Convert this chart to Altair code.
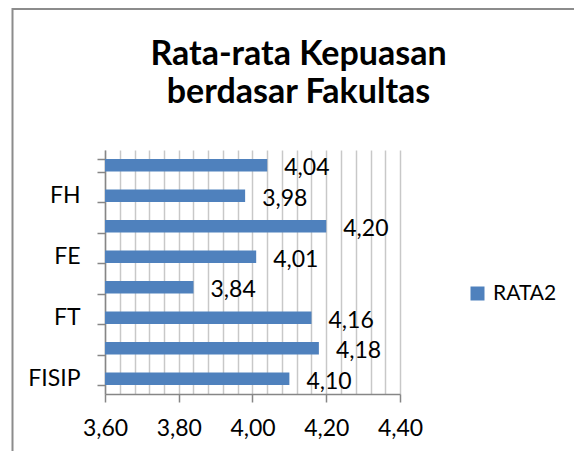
import altair as alt
import pandas as pd

# ---- data (bottom to top, as drawn) ----
categories = ["FISIP", "FKIP", "FT", "FP", "FE", "FK", "FH", "FTI"]
values = [4.10, 4.18, 4.16, 3.84, 4.01, 4.20, 3.98, 4.04]
shown_labels = ["FISIP", "FT", "FE", "FH"]
series_name = "RATA2"
x_domain = [3.60, 4.40]
x_grid_values = [3.60, 3.64, 3.68, 3.72, 3.76, 3.80, 3.84, 3.88, 3.92, 3.96,
                 4.00, 4.04, 4.08, 4.12, 4.16, 4.20, 4.24, 4.28, 4.32, 4.36, 4.40]
title_lines = ["Rata-rata Kepuasan", "berdasar Fakultas"]

FONT = "Lato"
BAR_COLOR = "#4F81BD"
AXIS_COLOR = "#868686"
GRID_COLOR = "#C8C8C8"

df = pd.DataFrame({"Fakultas": categories, "Nilai": values, "Seri": series_name})
order_top_first = categories[::-1]

shown_js = "[" + ",".join("'" + s + "'" for s in shown_labels) + "]"
major_test = "abs(datum.value*5 - round(datum.value*5)) < 0.001"

x_axis = alt.Axis(
    values=x_grid_values,
    labelExpr=f"{major_test} ? replace(format(datum.value, '.2f'), '.', ',') : ''",
    labelOverlap=False,
    labelFlush=False,
    labelBound=False,
    labelFont=FONT,
    labelFontSize=23,
    labelColor="black",
    labelPadding=15,
    tickSize=8,
    tickColor=AXIS_COLOR,
    tickWidth=1.5,
    tickOpacity={"condition": {"test": major_test, "value": 1}, "value": 0},
    domainColor=AXIS_COLOR,
    domainWidth=1.5,
    grid=True,
    gridColor=GRID_COLOR,
    gridWidth=1.5,
)

y_axis = alt.Axis(
    labelExpr=f"indexof({shown_js}, datum.value) >= 0 ? datum.value : ''",
    labelOverlap=False,
    labelFont=FONT,
    labelFontSize=23,
    labelColor="black",
    labelPadding=17,
    tickBand="extent",
    tickSize=8,
    tickColor=AXIS_COLOR,
    tickWidth=1.5,
    domainColor=AXIS_COLOR,
    domainWidth=1.5,
    grid=False,
)

x_scale = alt.Scale(domain=x_domain, nice=False, zero=False)
y_scale = alt.Scale(paddingInner=0.59, paddingOuter=0.295)

bars = alt.Chart(df).mark_bar().encode(
    x=alt.X("Nilai:Q", scale=x_scale, axis=x_axis, title=None),
    x2=alt.datum(x_domain[0]),
    y=alt.Y("Fakultas:N", sort=order_top_first, scale=y_scale, axis=y_axis, title=None),
    color=alt.Color(
        "Seri:N",
        scale=alt.Scale(range=[BAR_COLOR]),
        legend=alt.Legend(
            orient="none",
            legendX=362,
            legendY=133,
            title=None,
            symbolType="square",
            symbolSize=196,
            symbolStrokeWidth=0,
            symbolOpacity=1,
            labelFont=FONT,
            labelFontSize=21,
            labelColor="black",
            labelOffset=5,
            padding=0,
        ),
    ),
)

labels = alt.Chart(df).transform_calculate(
    lab="replace(format(datum.Nilai, '.2f'), '.', ',')"
).mark_text(
    align="left", baseline="middle", dx=17, dy=3, font=FONT, fontSize=23, color="black"
).encode(
    x=alt.X("Nilai:Q", scale=x_scale, axis=x_axis, title=None),
    y=alt.Y("Fakultas:N", sort=order_top_first, scale=y_scale, axis=y_axis, title=None),
    text="lab:N",
)

frame = alt.Chart(alt.Data(values=[{"k": 1}])).mark_rect(
    fill="transparent", stroke="#8C8C8C", strokeWidth=2
).encode(
    x=alt.value(-92.5), x2=alt.value(600), y=alt.value(-141), y2=alt.value(400)
)

chart = alt.layer(frame, bars, labels).properties(
    width=295,
    height=244,
    autosize=alt.AutoSizeParams(type="none"),
    padding={"left": 97, "top": 142, "right": 174, "bottom": 57},
    title=alt.Title(
        text=title_lines,
        font=FONT,
        fontSize=34,
        fontWeight="bold",
        color="black",
        anchor="middle",
        frame="group",
        baseline="top",
        dx=46,
        dy=102,
        offset=0,
        lineHeight=38,
    ),
    background="white",
).configure_view(stroke=None)

chart.save("out.html", embed_options={"renderer": "svg", "actions": False})
